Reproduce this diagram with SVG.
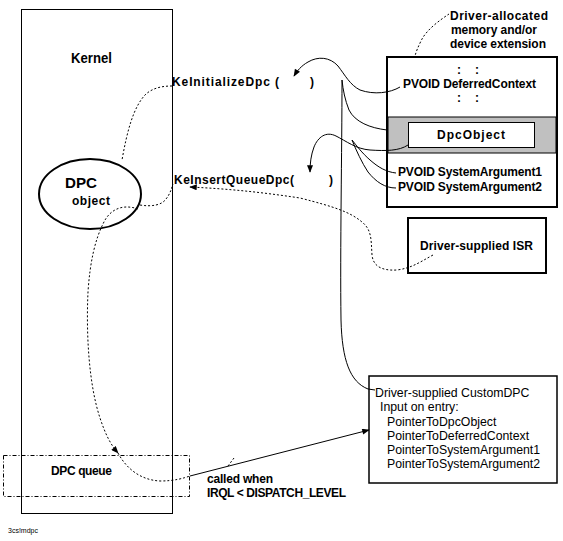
<svg xmlns="http://www.w3.org/2000/svg" width="563" height="541" viewBox="0 0 563 541">
  <style>
    text { font-family: "Liberation Sans", Arial, sans-serif; fill: #000; }
    .b { font-weight: bold; font-size: 12px; }
    .r { font-size: 12.3px; }
    .box { fill: #fff; stroke: #000; }
    .dot { fill: none; stroke: #000; stroke-width: 1; stroke-dasharray: 2 2; }
    .wire { fill: none; stroke: #000; stroke-width: 1; }
  </style>
  <defs>
    <marker id="arrow" viewBox="0 0 10 8" refX="9" refY="4" markerWidth="9" markerHeight="6" markerUnits="userSpaceOnUse" orient="auto">
      <path d="M0,0 L10,4 L0,8 Z" fill="#000"/>
    </marker>
  </defs>
  <rect width="563" height="541" fill="#fff"/>

  <!-- Kernel region -->
  <g id="kernel">
    <rect x="21.5" y="9.5" width="151" height="504" fill="none" stroke="#000" stroke-width="1"/>
    <text x="71" y="63" font-size="14.5" font-weight="bold" textLength="41" lengthAdjust="spacingAndGlyphs">Kernel</text>
  </g>

  <!-- DPC object ellipse -->
  <g id="dpc-object">
    <ellipse cx="90" cy="194" rx="51" ry="35" fill="#fff" stroke="#000" stroke-width="2"/>
    <text x="65" y="188" font-size="15.5" font-weight="bold" textLength="32" lengthAdjust="spacingAndGlyphs">DPC</text>
    <text class="b" x="72" y="205" textLength="38" lengthAdjust="spacing">object</text>
  </g>

  <!-- DPC queue -->
  <g id="dpc-queue">
    <rect x="3.5" y="455.5" width="186" height="41" fill="none" stroke="#000" stroke-width="1" stroke-dasharray="4 2 1 2"/>
    <text class="b" x="51" y="475" textLength="61" lengthAdjust="spacing">DPC queue</text>
  </g>

  <!-- Kernel routine labels -->
  <g id="ke-initialize-dpc">
    <text class="b" x="172" y="86" textLength="107" lengthAdjust="spacing">KeInitializeDpc (</text>
    <text class="b" x="310" y="86">)</text>
  </g>
  <g id="ke-insert-queue-dpc">
    <text class="b" x="174" y="184" textLength="120" lengthAdjust="spacing">KeInsertQueueDpc(</text>
    <text class="b" x="329" y="184">)</text>
  </g>

  <!-- Driver-allocated memory -->
  <g id="driver-memory">
    <text class="b" x="450" y="20" textLength="98" lengthAdjust="spacing">Driver-allocated</text>
    <text class="b" x="451" y="34" textLength="86" lengthAdjust="spacing">memory and/or</text>
    <text class="b" x="450" y="48" textLength="96" lengthAdjust="spacing">device extension</text>
    <rect class="box" x="387" y="57" width="170" height="150" stroke-width="2"/>
    <rect x="388" y="117" width="168" height="36" fill="#c0c0c0" stroke="#000" stroke-width="1"/>
    <text class="b" x="457" y="74">:</text>
    <text class="b" x="475" y="74">:</text>
    <text class="b" x="403" y="88" textLength="133" lengthAdjust="spacing">PVOID DeferredContext</text>
    <text class="b" x="457" y="102">:</text>
    <text class="b" x="475" y="102">:</text>
    <text class="b" x="398" y="176" textLength="144" lengthAdjust="spacing">PVOID SystemArgument1</text>
    <text class="b" x="398" y="191" textLength="144" lengthAdjust="spacing">PVOID SystemArgument2</text>
  </g>
  <g id="dpc-object-storage">
    <rect class="box" x="408.5" y="122.5" width="126" height="25" stroke-width="1"/>
    <text class="b" x="471" y="139" text-anchor="middle" textLength="68" lengthAdjust="spacing">DpcObject</text>
  </g>

  <!-- Driver-supplied ISR -->
  <g id="driver-isr">
    <rect class="box" x="408" y="218" width="138" height="55" stroke-width="2"/>
    <text class="b" x="420" y="250" textLength="113" lengthAdjust="spacing">Driver-supplied  ISR</text>
  </g>

  <!-- Driver-supplied CustomDPC -->
  <g id="driver-custom-dpc">
    <rect class="box" x="369" y="376" width="188" height="107" stroke-width="1.5"/>
    <text class="r" x="375" y="397">Driver-supplied CustomDPC</text>
    <text class="r" x="380" y="411">Input on entry:</text>
    <text class="r" x="387" y="426">PointerToDpcObject</text>
    <text class="r" x="387" y="440">PointerToDeferredContext</text>
    <text class="r" x="387" y="454">PointerToSystemArgument1</text>
    <text class="r" x="387" y="468">PointerToSystemArgument2</text>
  </g>

  <!-- Call condition note -->
  <g id="call-condition">
    <text class="b" x="207" y="483" textLength="66" lengthAdjust="spacing">called when</text>
    <text class="b" x="207" y="497" textLength="139" lengthAdjust="spacing">IRQL &lt; DISPATCH_LEVEL</text>
  </g>

  <text x="8" y="533" font-size="7">3cs!mdpc</text>

  <!-- Connectors -->
  <g id="connectors">
    <!-- leader to memory label -->
    <path class="dot" d="M449,14 C440,20 426,30 421,41 C418,47 416,52 415,56"/>
    <!-- KeInitializeDpc -> DPC object -->
    <path class="dot" d="M172,86 C162,86 152,88 145,95 C133,108 127,132 122,160"/>
    <!-- DPC object -> KeInsertQueueDpc -->
    <path class="dot" d="M140,205 C152,207 162,205 166,199 C170,194 171,190 173,184"/>
    <!-- ISR -> KeInsertQueueDpc -->
    <path class="dot" d="M433,255 C420,262 412,268 397,270 C380,271 373,265 372,255 C371,240 372,230 362,222 C350,212 335,207 300,198 C260,192 230,189 190,187" marker-end="url(#arrow)"/>
    <!-- DPC object -> DPC queue -->
    <path class="dot" d="M138,209 C124,204 110,208 103,224 C95,240 90,262 88,292 C86,335 89,385 100,418 C105,433 110,444 118,453" marker-end="url(#arrow)"/>
    <path class="dot" d="M118,453 C126,468 140,480 160,481 C175,481 184,478 190,476"/>
    <!-- DPC queue -> CustomDPC -->
    <path class="wire" d="M190,476 L369,430" marker-end="url(#arrow)"/>
    <path class="dot" d="M228,466 L234,458"/>

    <!-- Memory -> KeInitializeDpc arguments -->
    <path class="wire" d="M400,87 C390,93 374,95 360,90 C350,85 345,75 338,66 C330,57 318,56 308,62 C301,66 297,71 294,76" marker-end="url(#arrow)"/>
    <path class="wire" d="M387,130 C370,128 355,122 349,110 C345,100 343,90 342,80"/>
    <path class="wire" d="M342,80 C342,150 340,250 341,320 C342,360 350,382 368,389 L375,390"/>

    <!-- Memory -> KeInsertQueueDpc arguments -->
    <path class="wire" d="M408,145 C399,151 386,151 370,150 C356,149 346,141 336,136 C326,131 318,137 314,147 C311,155 310,163 310,172" marker-end="url(#arrow)"/>
    <path class="wire" d="M396,173 C386,172 378,167 370,160 C362,153 356,145 352,140"/>
    <path class="wire" d="M396,188 C385,188 376,182 368,172 C362,163 356,150 352,140"/>
  </g>
</svg>
